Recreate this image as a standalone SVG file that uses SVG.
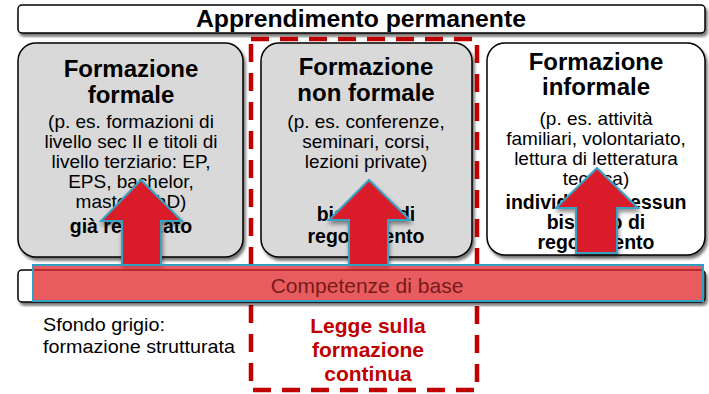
<svg xmlns="http://www.w3.org/2000/svg" width="709" height="394" viewBox="0 0 709 394">
<defs>
<filter id="sh" x="-10%" y="-10%" width="120%" height="125%">
<feDropShadow dx="2" dy="3" stdDeviation="1.5" flood-color="#000" flood-opacity="0.55"/>
</filter>
<filter id="ash" x="-20%" y="-10%" width="140%" height="130%">
<feDropShadow dx="1" dy="3" stdDeviation="2" flood-color="#000" flood-opacity="0.45"/>
</filter>
<style>
text{font-family:"Liberation Sans",Arial,sans-serif;text-anchor:middle;fill:#000}
.box{stroke:#000;stroke-width:1.5}
.gray{fill:#d9d9d9}
.white{fill:#fff}
.ttl{font-size:24px;font-weight:bold}
.body{font-size:19px}
.bold{font-size:19.5px;font-weight:bold}
.arrow{fill:#da1f2b;stroke:#38a2c2;stroke-width:2;stroke-linejoin:miter}
.law{font-size:21px;font-weight:bold;fill:#c00000}
</style>
</defs>

<g id="top">
<rect x="18" y="5" width="687" height="28" rx="4" class="box white" filter="url(#sh)"/>
<text x="361" y="27" font-size="24" font-weight="bold" textLength="330" lengthAdjust="spacingAndGlyphs">Apprendimento permanente</text>
</g>

<g id="formale">
<rect x="18" y="43" width="225" height="214" rx="18" class="box gray" filter="url(#sh)"/>
<text x="131" y="77" class="ttl">Formazione</text>
<text x="131" y="103" class="ttl">formale</text>
<text x="131" y="128" class="body">(p. es. formazioni di</text>
<text x="131" y="148" class="body">livello sec II e titoli di</text>
<text x="131" y="168" class="body">livello terziario: EP,</text>
<text x="131" y="188" class="body">EPS, bachelor,</text>
<text x="131" y="208" class="body">master, PhD)</text>
<text x="131" y="233" class="bold" font-size="19">già realizzato</text>
</g>

<g id="nonformale">
<rect x="261" y="43" width="211" height="214" rx="18" class="box gray" filter="url(#sh)"/>
<text x="366" y="75" class="ttl">Formazione</text>
<text x="366" y="101" class="ttl">non formale</text>
<text x="366" y="128" class="body">(p. es. conferenze,</text>
<text x="366" y="148" class="body">seminari, corsi,</text>
<text x="366" y="168" class="body">lezioni private)</text>
<text x="366" y="221" class="bold">bisogno di</text>
<text x="366" y="243" class="bold">regolamento</text>
</g>

<g id="informale">
<rect x="487" y="43" width="218" height="212" rx="18" class="box white" filter="url(#sh)"/>
<text x="596" y="70" class="ttl">Formazione</text>
<text x="596" y="95" class="ttl">informale</text>
<text x="596" y="125" class="body">(p. es. attività</text>
<text x="596" y="145" class="body">familiari, volontariato,</text>
<text x="596" y="165" class="body">lettura di letteratura</text>
<text x="596" y="185" class="body">tecnica)</text>
<text x="596" y="209" class="bold" font-size="18.5">individuale, nessun</text>
<text x="596" y="229" class="bold" font-size="18.5">bisogno di</text>
<text x="596" y="249" class="bold" font-size="18.5">regolamento</text>
</g>

<g id="legge">
<rect x="251" y="39" width="226" height="351" fill="none" stroke="#c00000" stroke-width="4.5" stroke-dasharray="18 11"/>
<text x="368" y="333" class="law">Legge sulla</text>
<text x="368" y="357" class="law">formazione</text>
<text x="368" y="381" class="law">continua</text>
</g>

<g id="connectors">
<polygon class="arrow" filter="url(#ash)" points="141,180 182,221 161,221 161,265 122,265 122,221 101,221"/>
<polygon class="arrow" filter="url(#ash)" points="369,180 410,220 388,220 388,265 349,265 349,220 329,220"/>
<polygon class="arrow" filter="url(#ash)" points="597,168 638,208 617,208 617,253 576,253 576,208 556,208"/>
</g>

<g id="base">
<rect x="18" y="270" width="687" height="32" rx="4" class="box white" filter="url(#sh)"/>
<rect x="33" y="265" width="670" height="36" fill="#e0262a" fill-opacity="0.75" stroke="#31a0c0" stroke-width="2"/>
<text x="367" y="293" font-size="21" style="fill:#781a1a">Competenze di base</text>
</g>

<g id="legend">
<text x="43" y="331" font-size="19" style="text-anchor:start" textLength="122" lengthAdjust="spacingAndGlyphs">Sfondo grigio:</text>
<text x="43" y="353" font-size="19" style="text-anchor:start" textLength="192" lengthAdjust="spacingAndGlyphs">formazione strutturata</text>
</g>
</svg>
